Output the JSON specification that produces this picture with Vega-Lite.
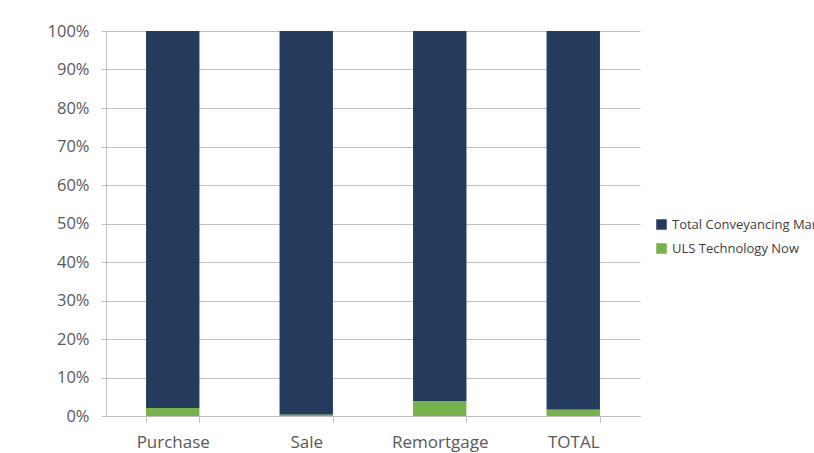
{
  "$schema": "https://vega.github.io/schema/vega-lite/v6.json",
  "width": 534,
  "height": 385,
  "autosize": {"type": "none"},
  "padding": {"left": 106, "top": 31, "right": 174, "bottom": 37},
  "background": "white",
  "config": {"view": {"stroke": null}, "font": "Open Sans"},
  "data": {"values": [
    {"category": "Purchase", "series": "Total Conveyancing Market", "value": 97.9, "order": 2},
    {"category": "Purchase", "series": "ULS Technology Now", "value": 2.1, "order": 1},
    {"category": "Sale", "series": "Total Conveyancing Market", "value": 99.7, "order": 2},
    {"category": "Sale", "series": "ULS Technology Now", "value": 0.3, "order": 1},
    {"category": "Remortgage", "series": "Total Conveyancing Market", "value": 96.1, "order": 2},
    {"category": "Remortgage", "series": "ULS Technology Now", "value": 3.9, "order": 1},
    {"category": "TOTAL", "series": "Total Conveyancing Market", "value": 98.4, "order": 2},
    {"category": "TOTAL", "series": "ULS Technology Now", "value": 1.6, "order": 1}
  ]},
  "mark": {"type": "bar"},
  "encoding": {
    "x": {
      "field": "category", "type": "nominal",
      "sort": ["Purchase", "Sale", "Remortgage", "TOTAL"],
      "scale": {"paddingInner": 0.6, "paddingOuter": 0.3},
      "axis": {
        "title": null, "labelAngle": 0, "tickBand": "extent",
        "domainColor": "#bfbfbf", "tickColor": "#bfbfbf", "tickSize": 6,
        "labelFontSize": 17, "labelColor": "#595959", "labelPadding": 12, "grid": false
      }
    },
    "y": {
      "field": "value", "type": "quantitative", "stack": "normalize",
      "scale": {"domain": [0, 1]},
      "axis": {
        "title": null, "format": ".0%", "values": [0, 0.1, 0.2, 0.3, 0.4, 0.5, 0.6, 0.7, 0.8, 0.9, 1],
        "domainColor": "#bfbfbf", "tickColor": "#bfbfbf", "tickSize": 5,
        "gridColor": "#bfbfbf", "labelFontSize": 16.5, "labelColor": "#595959", "labelPadding": 12
      }
    },
    "color": {
      "field": "series", "type": "nominal",
      "scale": {"domain": ["Total Conveyancing Market", "ULS Technology Now"], "range": ["#243b5e", "#76b44b"]},
      "legend": {
        "title": null, "orient": "none", "legendX": 549, "legendY": 187,
        "symbolType": "square", "symbolSize": 110, "symbolStrokeWidth": 0,
        "labelFontSize": 13, "labelColor": "#404040", "rowPadding": 10, "labelLimit": 400
      }
    },
    "order": {"field": "order", "type": "quantitative"}
  }
}
